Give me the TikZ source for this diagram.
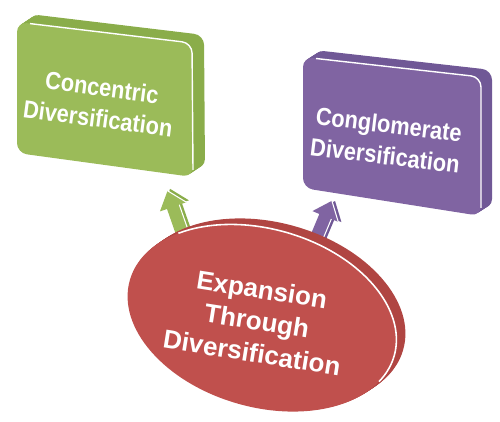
\documentclass[tikz,border=0pt]{standalone}
\usepackage{fontspec}
\setmainfont{Liberation Sans}
\newfontfamily\condfont{Liberation Sans}[FakeStretch=0.88]
\definecolor{grnF}{HTML}{9BBB59}
\definecolor{grnS}{HTML}{8AAD4A}
\definecolor{purF}{HTML}{8064A2}
\definecolor{purS}{HTML}{705896}
\definecolor{redF}{HTML}{C0504D}
\definecolor{redS}{HTML}{B04542}
\tikzset{
  boxtxt/.style={text=white, align=center, inner sep=0pt,
    font=\condfont\bfseries\fontsize{14.1}{17.8}\selectfont},
  ovaltxt/.style={text=white, align=center, inner sep=0pt,
    font=\bfseries\fontsize{14.8}{18.2}\selectfont},
  hilite/.style={draw=white, line width=0.8pt},
}
\begin{document}
\begin{tikzpicture}[x=0.02cm,y=-0.02cm]
\useasboundingbox (0,0) rectangle (500,422);
% ---------- green box ----------
\foreach \t in {12,...,1}
  \fill[grnS, rounded corners=2mm, shift={(\t,{-\t*8/12})}]
    (17,22) -- (192,43) -- (193,177) -- (17,153) -- cycle;
\fill[grnF, rounded corners=2mm] (17,22) -- (192,43) -- (193,177) -- (17,153) -- cycle;
\draw[hilite, rounded corners=2mm] (30,23.6) -- (192,43) -- (193,170);
\node[boxtxt, rotate=-7.5] (gt) at (100,103) {Concentric\\Diversification};
% ---------- purple box ----------
\foreach \t in {11,...,1}
  \fill[purS, rounded corners=2mm, shift={(\t,{-\t*7/11})}]
    (303,57) -- (481,77) -- (481,216) -- (303,188) -- cycle;
\fill[purF, rounded corners=2mm] (303,57) -- (481,77) -- (481,216) -- (303,188) -- cycle;
\draw[hilite, rounded corners=2mm] (316,58.5) -- (481,77) -- (481,208);
\node[boxtxt, rotate=-7] (pt) at (387,140) {Conglomerate\\Diversification};
% ---------- arrows ----------
\coordinate (ga) at (184,238);
\begin{scope}[shift={(ga)}, rotate=19.2, x=0.02cm, y=0.02cm]
  \fill[grnS, shift={(3,1)}] (-6.5,0) -- (6.5,0) -- (6.5,33) -- (14,33) -- (0,50) -- (-14,33) -- (-6.5,33) -- cycle;
  \fill[grnF] (-6.5,0) -- (6.5,0) -- (6.5,33) -- (14,33) -- (0,50) -- (-14,33) -- (-6.5,33) -- cycle;
  \draw[draw=white, line width=0.6pt] (6.5,3) -- (6.5,33) (14,33) -- (0,50);
\end{scope}
\coordinate (pa) at (313,246);
\begin{scope}[shift={(pa)}, rotate=-22.7, x=0.02cm, y=0.02cm]
  \fill[purS, shift={(3,1)}] (-6.5,0) -- (6.5,0) -- (6.5,32) -- (14,32) -- (0,49) -- (-14,32) -- (-6.5,32) -- cycle;
  \fill[purF] (-6.5,0) -- (6.5,0) -- (6.5,32) -- (14,32) -- (0,49) -- (-14,32) -- (-6.5,32) -- cycle;
  \draw[draw=white, line width=0.6pt] (6.5,3) -- (6.5,32) (14,32) -- (0,49);
\end{scope}
% ---------- red oval ----------
\coordinate (ec) at (262,318);
\foreach \t [evaluate=\t as \dx using 0.18*\t, evaluate=\t as \dy using 0.12*\t] in {10,...,1}
  \fill[redS, shift={(ec)}, xshift=\dx mm, yshift=\dy mm, rotate=-16]
    (0,0) ellipse [x radius=2.75cm, y radius=1.78cm];
\fill[redF, shift={(ec)}, rotate=-16] (0,0) ellipse [x radius=2.75cm, y radius=1.78cm];
\draw[hilite, line width=0.9pt, shift={(ec)}, rotate=-16]
  (139:2.75cm and 1.78cm) arc [start angle=139, end angle=-19, x radius=2.75cm, y radius=1.78cm];
\node[ovaltxt, rotate=-9] (rt) at (257,321) {Expansion\\Through\\Diversification};
\end{tikzpicture}
\end{document}
